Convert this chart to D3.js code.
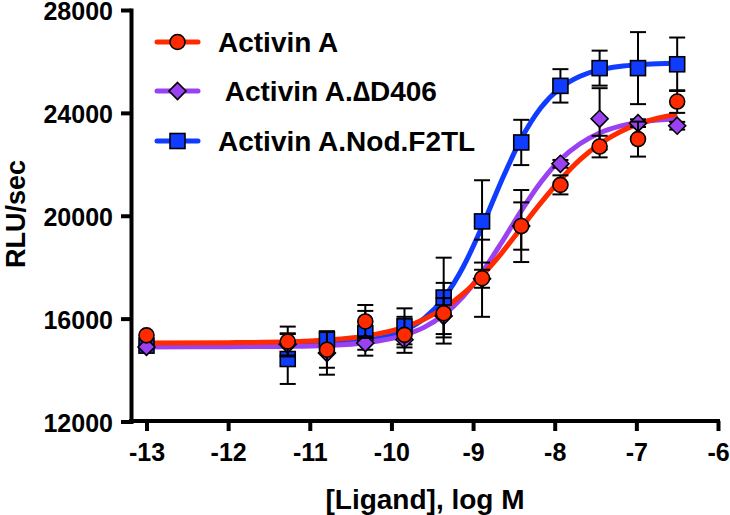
<!DOCTYPE html>
<html>
<head>
<meta charset="utf-8">
<script src="https://cdn.jsdelivr.net/npm/d3@7"></script>
<style>
    html, body { margin: 0; padding: 0; background: #ffffff; }
    svg { display: block; }
</style>
</head>
<body>
<div id="chart"></div>
<script>
// log [Ligand] of each measured point
var doses = [-13, -11.27, -10.79, -10.32, -9.84, -9.36, -8.89, -8.41, -7.93, -7.45, -6.98, -6.5];

var activinA      = [15350, 15110, 14790, 15890, 15370, 16210, 17570, 19600, 21200, 22690, 22980, 24440];
var activinAErr   = [0, 580, 700, 640, 700, 1180, 1500, 1400, 370, 420, 680, 440];
var activinD406   = [14900, 15000, 14660, 15050, 15180, 16100, 17550, 19600, 22020, 23770, 23600, 23500];
var activinD406Err = [0, 430, 840, 260, 300, 700, 350, 920, 150, 1190, 150, 150];
var activinNod    = [14950, 14430, 15180, 15430, 15700, 16820, 19780, 22850, 25050, 25740, 25740, 25890];
var activinNodErr = [0, 970, 320, 870, 700, 1550, 1600, 880, 650, 680, 1400, 1040];

// fitted curves
var curveDoses  = [-13, -12, -11.27, -10.79, -10.32, -9.84, -9.6, -9.36, -9.12, -8.89, -8.65, -8.41, -8.17, -7.93, -7.69, -7.45, -7.21, -6.98, -6.74, -6.5];
var activinAFit = [15050, 15065, 15100, 15170, 15320, 15670, 15980, 16400, 16970, 17680, 18550, 19530, 20500, 21400, 22180, 22790, 23250, 23560, 23790, 23950];
var activinD406Fit = [14900, 14905, 14920, 14955, 15060, 15360, 15660, 16150, 16870, 17800, 18960, 20190, 21300, 22185, 22800, 23220, 23475, 23625, 23720, 23775];
var activinNodFit  = [15000, 15002, 15012, 15041, 15149, 15541, 16004, 16794, 18017, 19575, 21373, 22994, 24198, 24971, 25423, 25672, 25804, 25873, 25910, 25929];

var xTicks = [-13, -12, -11, -10, -9, -8, -7, -6];
var yTicks = [12000, 16000, 20000, 24000, 28000];

var seriesNames = ['Activin A', ' Activin A.\u2206D406', 'Activin A.Nod.F2TL'];

var font = '"Liberation Sans", Arial, Helvetica, sans-serif';

var series = [
    {name: seriesNames[2], values: activinNod, errors: activinNodErr, fit: activinNodFit, color: '#0f3cff', symbol: 'square'},
    {name: seriesNames[1], values: activinD406, errors: activinD406Err, fit: activinD406Fit, color: '#9a42f2', symbol: 'diamond'},
    {name: seriesNames[0], values: activinA, errors: activinAErr, fit: activinAFit, color: '#ff2a00', symbol: 'circle'}
];

var width = 730, height = 515;

var x = d3.scaleLinear().domain([-13, -6]).range([146.5, 718]);
var y = d3.scaleLinear().domain([12000, 28000]).range([421.5, 10]);

var svg = d3.select('#chart').append('svg')
        .attr('width', width)
        .attr('height', height);

var drawSymbol = function(g, type, cx, cy, color) {
    if (type == 'circle') {
        g.append('circle')
                .attr('cx', cx)
                .attr('cy', cy)
                .attr('r', 7.5)
                .attr('fill', color)
                .attr('stroke', '#000000')
                .attr('stroke-width', 1.6);
    } else if (type == 'square') {
        g.append('rect')
                .attr('x', cx - 7.5)
                .attr('y', cy - 7.5)
                .attr('width', 15)
                .attr('height', 15)
                .attr('fill', color)
                .attr('stroke', '#000000')
                .attr('stroke-width', 1.6);
    } else {
        var s = 8.5;
        g.append('path')
                .attr('d', 'M' + cx + ',' + (cy - s) + ' L' + (cx + s) + ',' + cy + ' L' + cx + ',' + (cy + s) + ' L' + (cx - s) + ',' + cy + 'Z')
                .attr('fill', color)
                .attr('stroke', '#000000')
                .attr('stroke-width', 1.6);
    }
};

// axes
var yAxis = svg.append('g')
        .attr('transform', 'translate(131,0)')
        .call(d3.axisLeft(y).tickValues(yTicks).tickSize(10).tickSizeOuter(0).tickPadding(8).tickFormat(d3.format('d')));

var xAxis = svg.append('g')
        .attr('transform', 'translate(0,421)')
        .call(d3.axisBottom(x).tickValues(xTicks).tickSize(10).tickSizeOuter(0).tickPadding(12).tickFormat(function(d){ return String(d); }));

xAxis.select('.domain').remove();
xAxis.append('line')
        .attr('x1', 129)
        .attr('x2', 720)
        .attr('stroke', '#000000')
        .attr('stroke-width', 4);

[xAxis, yAxis].forEach(function(a) {
    a.selectAll('.domain').attr('stroke-width', 4).attr('stroke-linecap', 'square');
    a.selectAll('.tick line').attr('stroke-width', 4);
    a.selectAll('.tick text')
            .style('font-family', font)
            .style('font-weight', 'bold')
            .style('font-size', '25px')
            .attr('fill', '#000000');
});
yAxis.selectAll('.tick text').attr('dy', '0.38em');

svg.append('text')
        .attr('x', 425)
        .attr('y', 509)
        .attr('text-anchor', 'middle')
        .style('font-family', font)
        .style('font-weight', 'bold')
        .style('font-size', '28px')
        .text('[Ligand], log M');

svg.append('text')
        .attr('text-anchor', 'middle')
        .attr('transform', 'translate(25,214)rotate(270)')
        .style('font-family', font)
        .style('font-weight', 'bold')
        .style('font-size', '27px')
        .text('RLU/sec');

// fitted curves
var line = d3.line()
        .x(function(d){ return x(d[0]); })
        .y(function(d){ return y(d[1]); })
        .curve(d3.curveMonotoneX);

series.forEach(function(s) {
    svg.append('path')
            .attr('d', line(curveDoses.map(function(c, i){ return [c, s.fit[i]]; })))
            .attr('fill', 'none')
            .attr('stroke', s.color)
            .attr('stroke-width', 5);
});

// error bars and points
series.forEach(function(s) {
    var g = svg.append('g');
    doses.forEach(function(d, i) {
        var err = s.errors[i];
        if (err > 0) {
            var cx = x(d), top = y(s.values[i] + err), bot = y(s.values[i] - err);
            g.append('line')
                    .attr('x1', cx).attr('x2', cx)
                    .attr('y1', top).attr('y2', bot)
                    .attr('stroke', '#000000')
                    .attr('stroke-width', 2);
            [top, bot].forEach(function(cy) {
                g.append('line')
                        .attr('x1', cx - 8).attr('x2', cx + 8)
                        .attr('y1', cy).attr('y2', cy)
                        .attr('stroke', '#000000')
                        .attr('stroke-width', 2);
            });
        }
    });
    doses.forEach(function(d, i) {
        drawSymbol(g, s.symbol, x(d), y(s.values[i]), s.color);
    });
});

// legend
var legend = svg.append('g');
var legendRows = [
    {s: series[2], y: 42, tx: 218},
    {s: series[1], y: 91, tx: 218},
    {s: series[0], y: 141, tx: 218}
];
legendRows.forEach(function(r) {
    legend.append('line')
            .attr('x1', 157).attr('x2', 198)
            .attr('y1', r.y).attr('y2', r.y)
            .attr('stroke', r.s.color)
            .attr('stroke-width', 5)
            .attr('stroke-linecap', 'round');
    drawSymbol(legend, r.s.symbol, 177.5, r.y, r.s.color);
    legend.append('text')
            .attr('x', r.tx)
            .attr('y', r.y + 10)
            .attr('xml:space', 'preserve')
            .style('white-space', 'pre')
            .style('font-family', font)
            .style('font-weight', 'bold')
            .style('font-size', '28px')
            .text(r.s.name);
});
</script>
</body>
</html>
